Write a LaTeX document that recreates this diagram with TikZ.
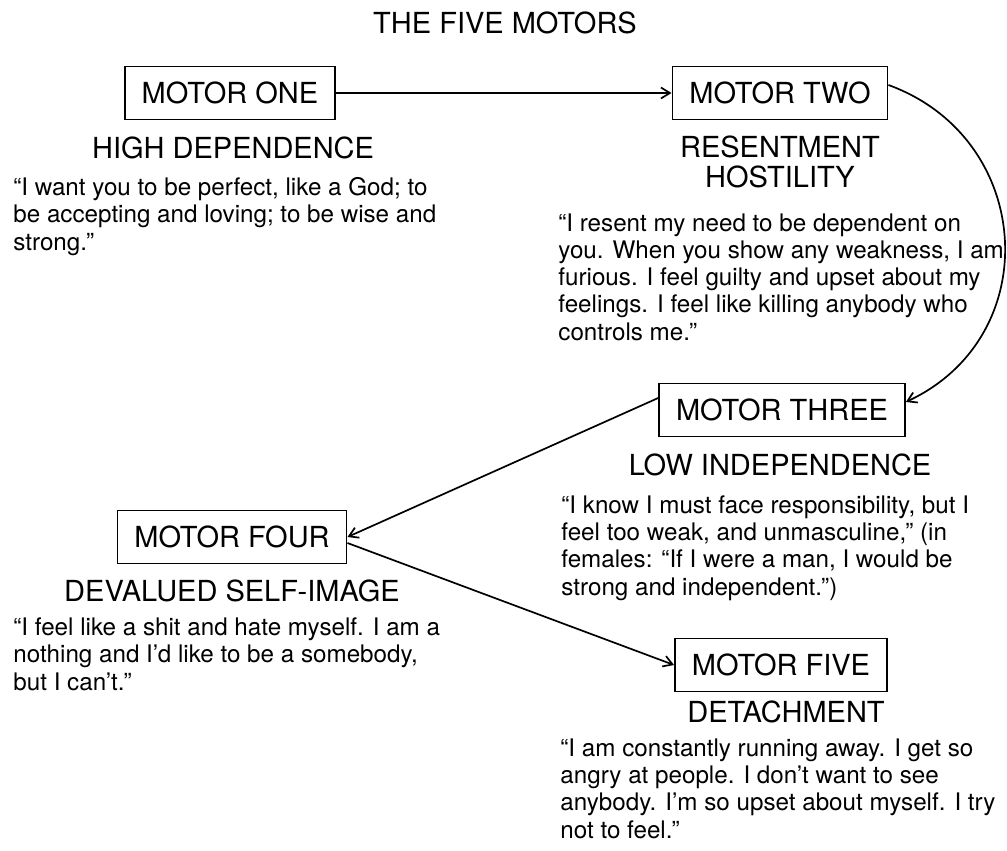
\documentclass[tikz,border=0pt]{standalone}
\usepackage{fontspec}
\setmainfont{TeX Gyre Heros}
\usepackage{tikz}
\usetikzlibrary{arrows.meta}

\newcommand{\capsfont}{\fontsize{14.5}{15}\selectfont}
\newcommand{\quotefont}{\fontsize{12.1}{13.6}\selectfont}

\begin{document}
\begin{tikzpicture}[
            x=0.5pt, y=-0.5pt,
            >={Straight Barb[length=4.5pt,width=5.5pt]},
            motor/.style={draw,line width=0.85pt,font=\capsfont,inner xsep=8.5pt,minimum height=26.5pt},
            heading/.style={font=\capsfont,align=center,inner sep=0pt},
            saying/.style={font=\quotefont,align=left,anchor=base west,inner sep=0pt},
            link/.style={->,line width=0.85pt}
            ]
            \useasboundingbox (0,0) rectangle (1007,851);
            \node[heading] (title) at (505, 23) {THE FIVE MOTORS};
            % boxes
            \node[motor] (m1) at (230, 93) {MOTOR ONE};
            \node[motor] (m2) at (780, 93) {MOTOR TWO};
            \node[motor] (m3) at (782, 410) {MOTOR THREE};
            \node[motor] (m4) at (232, 537) {MOTOR FOUR};
            \node[motor] (m5) at (781, 665) {MOTOR FIVE};
            % headings
            \node[heading] (h1) at (233, 148) {HIGH DEPENDENCE};
            \node[heading] (h2) at (780, 162) {RESENTMENT\\HOSTILITY};
            \node[heading] (h3) at (780, 465) {LOW INDEPENDENCE};
            \node[heading] (h4) at (232, 591) {DEVALUED SELF-IMAGE};
            \node[heading] (h5) at (786, 712) {DETACHMENT};
            % sayings (placed at the baseline of their last line)
            \node[saying] (q1) at (13, 250) {``I want you to be perfect, like a God; to\\
                be accepting and loving; to be wise and\\strong.''};
            \node[saying] (q2) at (558, 340) {``I resent my need to be dependent on\\
                you. When you show any weakness, I am\\furious. I feel guilty and upset about my\\
                feelings. I feel like killing anybody who\\controls me.''};
            \node[saying] (q3) at (561, 595) {``I know I must face responsibility, but I\\
                feel too weak, and unmasculine,'' (in\\females: ``If I were a man, I would be\\
                strong and independent.'')};
            \node[saying] (q4) at (13, 690) {``I feel like a shit and hate myself. I am a\\
                nothing and I'd like to be a somebody,\\but I can't.''};
            \node[saying] (q5) at (560, 838) {``I am constantly running away. I get so\\
                angry at people. I don't want to see\\anybody. I'm so upset about myself. I try\\
                not to feel.''};
            % connectors
            \draw[link] (m1) -- (m2);
            \draw[link] ([yshift=4pt]m2.east) to[out=-20,in=25,looseness=1.25] ([yshift=4pt]m3.east);
            \draw[link] ([yshift=6pt]m3.west) -- (m4.east);
            \draw[link] ([yshift=-3pt]m4.east) -- (m5.west);
        \end{tikzpicture}
\end{document}
